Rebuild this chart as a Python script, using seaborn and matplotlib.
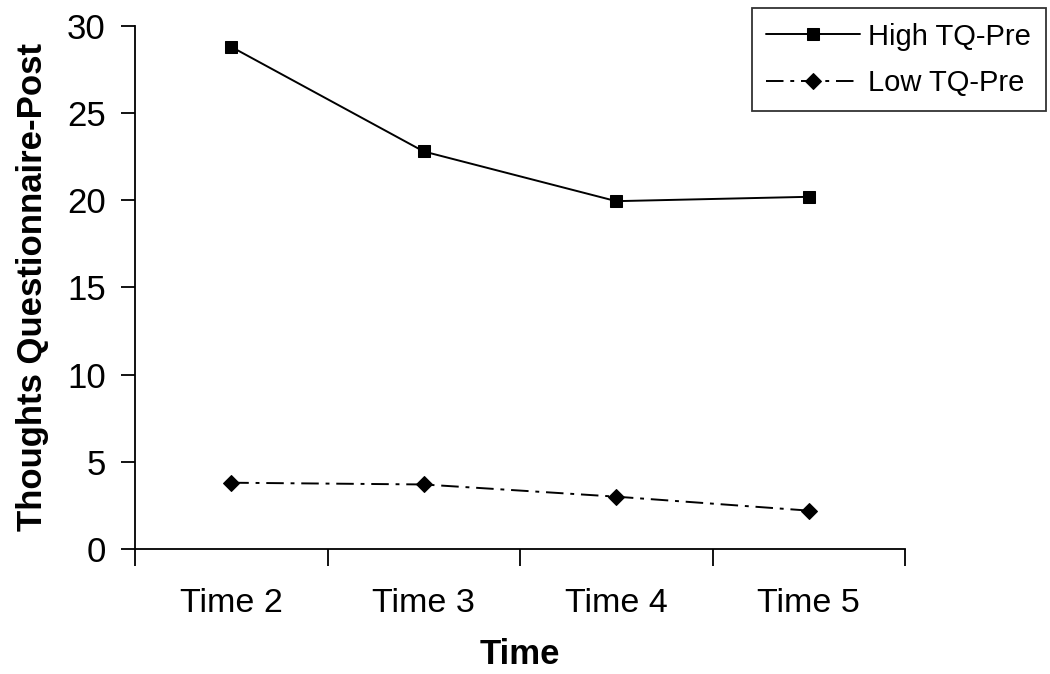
import matplotlib
matplotlib.use("Agg")
import matplotlib.pyplot as plt
import seaborn as sns
import pandas as pd

# data
times = ["Time 2", "Time 3", "Time 4", "Time 5"]
high_tq = [28.8, 22.8, 19.95, 20.2]
low_tq = [3.8, 3.7, 3.0, 2.2]

sns.set_theme(style="white")
plt.rcParams["font.family"] = ["Liberation Sans", "DejaVu Sans"]
plt.rcParams["text.color"] = "black"
plt.rcParams["axes.labelcolor"] = "black"
plt.rcParams["xtick.color"] = "black"
plt.rcParams["ytick.color"] = "black"

df = pd.DataFrame({
    "Time": times * 2,
    "value": high_tq + low_tq,
    "group": ["High TQ-Pre"] * 4 + ["Low TQ-Pre"] * 4,
})

fig = plt.figure(figsize=(10.5, 6.74), dpi=100)
ax = fig.add_axes([0.1286, 0.1855, 0.7333, 0.776])

sns.lineplot(data=df, x="Time", y="value", hue="group", style="group",
             palette=["black", "black"], markers={"High TQ-Pre": "s", "Low TQ-Pre": "D"},
             dashes={"High TQ-Pre": "", "Low TQ-Pre": (9, 3.5, 2, 3.5)},
             markersize=9, linewidth=1.4, markeredgecolor="black", ax=ax, legend=True)

for ln in ax.lines:
    if ln.get_marker() == "D":
        ln.set_markersize(8.5)

ax.set_xlim(-0.5, 3.5)
ax.set_ylim(0, 30)
ax.set_yticks(range(0, 31, 5))
ax.set_xticks(range(4))
ax.set_xticks([-0.5, 0.5, 1.5, 2.5, 3.5], minor=True)
ax.tick_params(axis="x", which="major", bottom=True, length=0, labelsize=24.5, pad=28)
ax.tick_params(axis="x", which="minor", bottom=True, length=12, width=1.3, direction="out")
ax.tick_params(axis="y", left=True, length=10, width=1.3, direction="out", labelsize=25, pad=11)

for s in ["top", "right"]:
    ax.spines[s].set_visible(False)
for s in ["left", "bottom"]:
    ax.spines[s].set_color("black")
    ax.spines[s].set_linewidth(1.3)

ax.set_xlabel("Time", fontsize=25, fontweight="bold", labelpad=14)
ax.set_ylabel("Thoughts Questionnaire-Post", fontsize=25, fontweight="bold", labelpad=13)

handles, labels = ax.get_legend_handles_labels()
ax.get_legend().remove()
leg = fig.legend(handles, labels, loc="upper left", bbox_to_anchor=(0.716, 0.988),
                 borderaxespad=0, fontsize=21, frameon=True, fancybox=False,
                 edgecolor="black", handlelength=3.2, borderpad=0.5,
                 labelspacing=0.62, handletextpad=0.3)
leg.get_frame().set_linewidth(1.3)

fig.savefig("out.png", dpi=100)
